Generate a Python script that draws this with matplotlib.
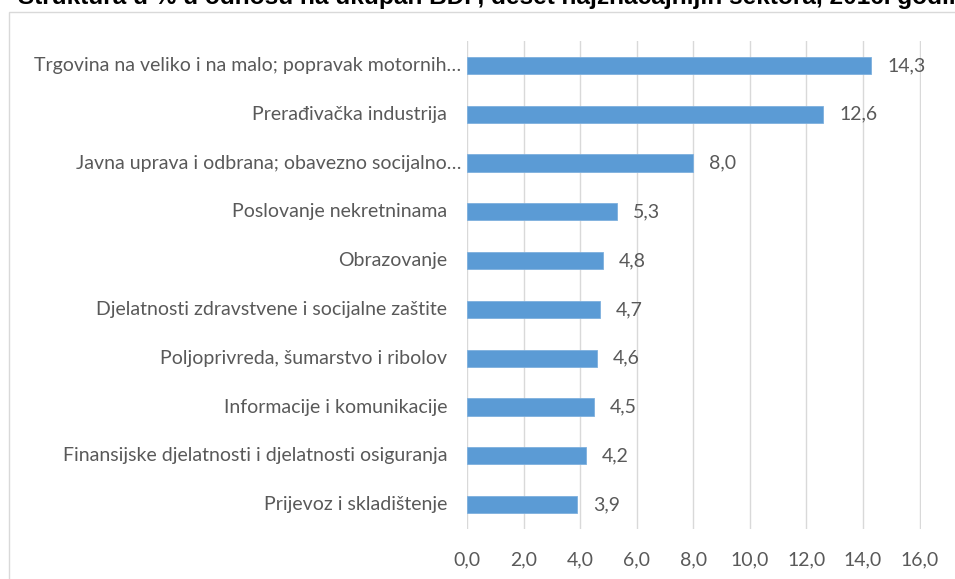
import matplotlib.pyplot as plt
from matplotlib.patches import Rectangle

sectors = [
    "Trgovina na veliko i na malo; popravak motornih…",
    "Prerađivačka industrija",
    "Javna uprava i odbrana; obavezno socijalno…",
    "Poslovanje nekretninama",
    "Obrazovanje",
    "Djelatnosti zdravstvene i socijalne zaštite",
    "Poljoprivreda, šumarstvo i ribolov",
    "Informacije i komunikacije",
    "Finansijske djelatnosti i djelatnosti osiguranja",
    "Prijevoz i skladištenje",
]
shares = [14.3, 12.6, 8.0, 5.3, 4.8, 4.7, 4.6, 4.5, 4.2, 3.9]
xticks = [0, 2, 4, 6, 8, 10, 12, 14, 16]

title = "Struktura u % u odnosu na ukupan BDP, deset najznačajnijih sektora, 2016. godine"

plt.rcParams["font.family"] = ["Lato", "DejaVu Sans"]
text_col = "#595959"

fig = plt.figure(figsize=(9.55, 5.79), dpi=100)

# chart border (top-left part visible only)
fig.patches.append(Rectangle((9 / 955, -0.02), 1.0, 1 - 12 / 579 + 0.02,
                             transform=fig.transFigure, fill=False,
                             edgecolor="#d9d9d9", linewidth=1))

# title, mostly cut off at the top of the picture
fig.text(18 / 955, 1 - 4 / 579, title, fontsize=17.6, fontweight="bold",
         family=["Liberation Sans"], color="black", va="baseline", ha="left")

ax = fig.add_axes([467 / 955, 1 - 529 / 579, 454 / 955, 488 / 579])

ypos = list(range(len(sectors)))
ax.barh(ypos, shares, height=0.35, color="#5b9bd5", edgecolor="#7eb0de",
        linewidth=0.6, zorder=3)
for y, v in zip(ypos, shares):
    ax.text(v + 0.55, y, f"{v:.1f}".replace(".", ","), va="center", ha="left",
            fontsize=14, color=text_col)

# category labels; truncated ones sit closer to the axis
for y, lab in zip(ypos, sectors):
    off = -4.3 if lab.endswith("…") else -14.4
    ax.annotate(lab, xy=(0, y), xytext=(off, 0), textcoords="offset points",
                ha="right", va="center", fontsize=14, color=text_col,
                annotation_clip=False)

ax.set_ylim(len(sectors) - 0.5, -0.5)
ax.set_xlim(0, 16.05)
ax.set_yticks([])
ax.set_xticks(xticks)
ax.set_xticklabels([f"{t:.1f}".replace(".", ",") for t in xticks],
                   fontsize=14, color=text_col)
ax.tick_params(axis="x", length=0, pad=16)
ax.grid(axis="x", color="#d9d9d9", linewidth=1, zorder=0)
for s in ax.spines.values():
    s.set_visible(False)

fig.savefig("out.png", dpi=100)
